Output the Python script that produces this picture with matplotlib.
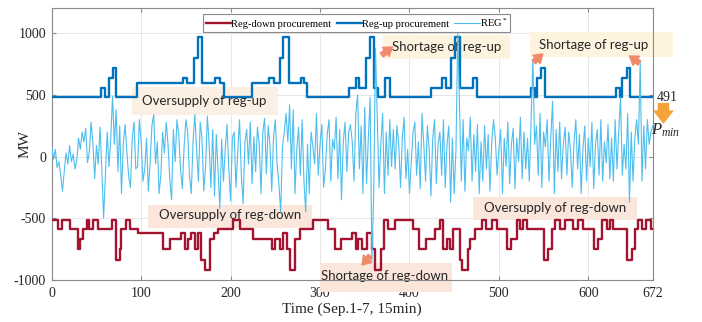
import numpy as np
import matplotlib
matplotlib.use('Agg')
import matplotlib.pyplot as plt
from matplotlib.patches import Rectangle

plt.rcParams['font.family'] = ['Liberation Serif', 'DejaVu Serif']
plt.rcParams['mathtext.fontset'] = 'custom'
plt.rcParams['mathtext.rm'] = 'Liberation Serif'
plt.rcParams['mathtext.it'] = 'Liberation Serif:italic'
plt.rcParams['axes.unicode_minus'] = False

# ---------------- data ----------------
# Reg-up procurement (step changes: start time, MW)
up_t = [0, 55, 60, 64, 68, 72, 95, 147, 151, 159, 164, 168, 183, 188, 193, 224, 243, 248,
        255, 259, 265, 279, 282, 285, 332, 340, 344, 351, 356, 360, 365, 373, 378, 424,
        436, 441, 447, 451, 457, 471, 476, 536, 540, 543, 547, 551, 631, 635, 638, 643, 647]
up_v = [480, 560, 480, 640, 720, 480, 600, 640, 600, 800, 970, 600, 640, 600, 480, 600, 640, 600,
        800, 970, 600, 640, 600, 480, 560, 640, 560, 800, 970, 560, 480, 640, 480, 560,
        640, 560, 800, 970, 560, 640, 480, 560, 480, 640, 720, 480, 560, 480, 640, 720, 480]

# Reg-down procurement (step changes: start time, MW)
down_t = [0, 7, 11, 20, 29, 32, 35, 39, 42, 46, 52, 67, 72, 76, 78, 83, 87, 96, 124, 132,
          145, 149, 152, 156, 160, 163, 167, 171, 177, 181, 186, 203, 210, 225, 246, 250,
          255, 259, 263, 266, 272, 278, 292, 309, 317, 324, 336, 340, 343, 347, 353, 358,
          362, 368, 372, 376, 384, 404, 411, 419, 428, 434, 438, 442, 445, 449, 456, 459,
          465, 468, 473, 481, 486, 492, 498, 509, 514, 520, 524, 527, 531, 550, 555, 559,
          563, 568, 574, 583, 589, 594, 606, 611, 615, 621, 624, 628, 643, 649, 652, 656,
          660, 664, 670]
down_v = [-510, -590, -510, -590, -750, -670, -590, -510, -590, -510, -590, -510, -840, -750,
          -590, -510, -590, -620, -750, -670, -620, -750, -670, -620, -750, -620, -840, -920,
          -670, -620, -590, -510, -590, -670, -750, -670, -750, -620, -750, -920, -670, -590,
          -510, -590, -750, -670, -620, -750, -670, -750, -620, -750, -920, -750, -510, -590,
          -510, -590, -750, -670, -590, -510, -750, -670, -750, -590, -840, -920, -750, -670,
          -590, -510, -590, -510, -590, -750, -670, -510, -590, -510, -590, -840, -750, -590,
          -510, -590, -510, -590, -510, -590, -750, -670, -510, -590, -510, -590, -840, -750,
          -590, -510, -590, -510, -590]

# REG* signal, sampled every 2 intervals, one list per day
reg_day1 = [80, -20, 60, -90, -40, -150, -280, -120, 30, -60, 90, -40, 20, -100, -30, 150,
            60, 200, 120, 230, -50, 40, 280, 120,
            -180, 90, -60, 240, -100, -500, -150, 200, -80, 150, 490, 100, 380, -120, 250, -300,
            100, 260, 40, -160, -250, 150, 280, -100]
reg_day2 = [-80, 300, 120, -200, -100, 150, -280, -50, 250, 340, -60, 120, -300, -150, 200, 30,
            280, 100, -180, -350, 220, -40, 300, 180,
            -100, -260, 80, 300, 200, -150, -300, 120, 340, 60, -200, 280, 150, -280, -80, 330,
            100, -250, 220, -320, 180, -120, -420, 140]
reg_day3 = [-200, 60, 260, -100, -360, 150, 200, -250, 40, 300, -150, -380, 120, 220, -60, 280,
            -220, 160, -120, 240, 100, -300, 200, 310,
            -140, 250, 100, -280, 160, 300, -60, -220, -450, 80, 200, 350, 120, 420, -100, 380,
            -300, 60, 240, -150, 300, -200, -450, 100]
reg_day4 = [-300, 200, 80, -60, 350, -150, 100, 260, -250, -100, 180, 300, -200, 140, 60, 320,
            -180, 220, -350, 120, 280, -120, 200, 260,
            120, -200, 350, 500, -100, 250, -300, 400, -220, 150, 480, -850, -300, 880, 300, -250,
            100, 350, -300, 200, -150, 300, -80, 220]
reg_day5 = [-100, 250, 100, -250, 150, 320, -180, 60, -300, -50, 200, 280, -150, 120, -260, 350,
            100, -200, 250, 60, -320, 150, 300, -220,
            100, 200, -150, 300, -250, 100, 250, -370, 150, -300, 60, 1000, 400, -200, 300, -280,
            150, 50, 320, -200, 180, -120, 260, -300]
reg_day6 = [120, -200, 250, -100, 180, -280, 120, 300, 150, -150, 60, 220, -300, 150, -80, 280,
            -220, 100, 230, -260, 150, -40, 320, -180,
            200, -100, 150, -200, 300, 790, 100, 250, -150, 350, -250, 200, 80, 300, -200, 150,
            450, -300, 220, -120, 280, -180, 100, 240]
reg_day7 = [-150, 200, 60, -250, 120, 300, -100, 180, -300, 60, 250, -200, 150, -80, 280, -260,
            100, 220, -150, 300, -200, 120, -50, 260,
            -180, 150, -200, 300, -100, 200, 480, -150, 100, -100, 350, -370, 200, -200, 150, 300,
            100, 770, -200, 250, -100, 300, 100, 200, 250]
reg_step = 2

xticks = [0, 100, 200, 300, 400, 500, 600, 672]
yticks = [-1000, -500, 0, 500, 1000]
T_END = 672

# ---------------- figure ----------------
fig = plt.figure(figsize=(7.02, 3.22), dpi=100)
ax = fig.add_axes([0.0737, 0.1304, 0.8561, 0.8447])

reg_vals = reg_day1 + reg_day2 + reg_day3 + reg_day4 + reg_day5 + reg_day6 + reg_day7
reg_x = np.arange(len(reg_vals)) * reg_step

l_down, = ax.step(down_t + [T_END], down_v + [down_v[-1]], where='post',
                  color='#A2142F', lw=1.7, zorder=3, label='Reg-down procurement')
l_up, = ax.step(up_t + [T_END], up_v + [up_v[-1]], where='post',
                color='#0072BD', lw=1.7, zorder=3, label='Reg-up procurement')
l_reg, = ax.plot(reg_x, reg_vals, color='#4DBEEE', lw=0.8, zorder=4, label='REG$^*$')

ax.set_xlim(0, T_END)
ax.set_ylim(-1000, 1205)
ax.set_xticks(xticks)
ax.set_yticks(yticks)
ax.grid(True, color='#e6e6e6', lw=0.7)
ax.set_axisbelow(True)
for s in ax.spines.values():
    s.set_color('#8a8a8a')
    s.set_linewidth(0.8)
ax.tick_params(direction='in', top=True, right=True, length=3, color='#8a8a8a',
               labelsize=10, labelcolor='#262626')
ax.tick_params(axis='x', pad=5)
ax.tick_params(axis='y', pad=4)
ax.set_xlabel('Time (Sep.1-7, 15min)', fontsize=11, color='#262626', labelpad=2)
ax.set_ylabel('MW', fontsize=11, color='#262626')
ax.yaxis.set_label_coords(-0.034, 0.5)

leg = ax.legend(handles=[l_down, l_up, l_reg], loc='upper left', bbox_to_anchor=(0.252, 0.978),
                ncol=3, fontsize=7.6, frameon=True, fancybox=False, edgecolor='#8a8a8a',
                framealpha=1, borderpad=0.25, handlelength=2.4, handletextpad=0.0,
                columnspacing=0.5, borderaxespad=0)
leg.get_frame().set_linewidth(0.8)

# ---------------- annotation boxes ----------------
boxes = [
    # x0, x1, y0, y1, color, text, tx, ty
    (90, 253, 338, 565, '#fcefe4', 'Oversupply of reg-up', 171, 451),
    (370, 512, 792, 987, '#fdf3df', 'Shortage of reg-up', 441, 889),
    (535, 695, 809, 1011, '#fdf3df', 'Shortage of reg-up', 606, 905),
    (108, 291, -578, -392, '#fbe6dc', 'Oversupply of reg-down', 199, -473),
    (471, 654, -513, -327, '#fbe6dc', 'Oversupply of reg-down', 563, -416),
    (300, 448, -1097, -862, '#fbe6dc', 'Shortage of reg-down', 372, -965),
]
for x0, x1, y0, y1, c, txt, tx, ty in boxes:
    ax.add_patch(Rectangle((x0, y0), x1 - x0, y1 - y0, facecolor=c, edgecolor='none',
                           zorder=1.5, clip_on=False))
    ax.text(tx, ty, txt, fontsize=9.5, family=['Lato', 'DejaVu Sans'], color='#262626',
            ha='center', va='center', zorder=2, clip_on=False)

arrows = [
    ((369, 824), (381, 889)),
    ((539, 768), (549, 833)),
    ((657, 760), (646, 816)),
    ((356, -805), (347, -878)),
]
for (x0, y0), (x1, y1) in arrows:
    ax.annotate('', xy=(x1, y1), xytext=(x0, y0),
                arrowprops=dict(arrowstyle='simple,head_width=0.8,head_length=0.6,tail_width=0.35',
                                color='#F08A6C', mutation_scale=10, shrinkA=0, shrinkB=0),
                annotation_clip=False, zorder=5)

# P_min annotation on the right
ax.text(676, 476, '491', fontsize=10, color='#262626', ha='left', va='center', clip_on=False)
ax.annotate('', xy=(684, 275), xytext=(684, 430),
            arrowprops=dict(arrowstyle='simple,head_width=1.1,head_length=0.7,tail_width=0.6',
                            color='#F5A23A', mutation_scale=12, shrinkA=0, shrinkB=0),
            annotation_clip=False)
ax.text(670, 210, '$P_{min}$', fontsize=12, color='#262626', ha='left', va='center', clip_on=False)

fig.savefig('out.png', dpi=100)
